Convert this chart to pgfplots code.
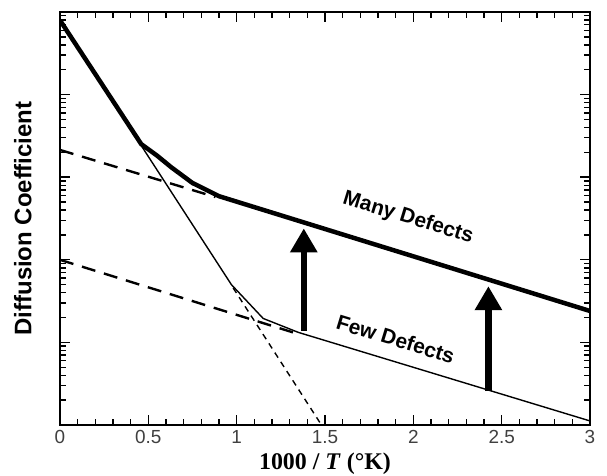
\documentclass[border=0pt]{standalone}
\usepackage{fontspec}
\setmainfont{Liberation Sans}
\newfontfamily\serifbf{Liberation Serif}
\usepackage{pgfplots}
\pgfplotsset{compat=1.18}
\usetikzlibrary{arrows.meta}

\begin{document}
\begin{tikzpicture}
\begin{axis}[
  width=530bp, height=413bp, scale only axis,
  xmin=0, xmax=3, ymin=1, ymax=1e5,
  ymode=log,
  xtick={0,0.5,...,3},
  minor x tick num=4,
  ytick={1,10,100,1000,10000,100000},
  yticklabels={},
  tick align=inside,
  major tick length=10bp, minor tick length=6bp,
  every tick/.style={black, line width=1.4bp},
  axis line style={line width=2.6bp},
  /pgf/number format/assume math mode=true,
  xticklabel style={font=\fontsize{19}{21}\selectfont, text=black!75, yshift=-2bp},
  xlabel={\serifbf\bfseries 1000 / \textit{T} (\textdegree K)},
  xlabel style={font=\fontsize{24}{26}\selectfont, at={(axis description cs:0.5,-0.095)}, anchor=center},
  ylabel={\bfseries Diffusion Coefficient},
  ylabel style={font=\fontsize{24}{26}\selectfont, at={(axis description cs:-0.07,0.5)}, anchor=center},
]
% many defects (sum)
\addplot[black, line width=4.5bp, line join=round] coordinates {
  (0,7.94e4) (0.46,2512) (0.55,1820) (0.63,1318) (0.75,851) (0.9,589) (3,24.0)
};
% few defects (sum)
\addplot[black, line width=1.4bp] coordinates {
  (0,7.94e4) (0.97,50.1) (1.15,19.5) (1.35,13.2) (3,1.12)
};
% intrinsic extension
\addplot[black, line width=1.4bp, dash pattern=on 6bp off 5bp] coordinates {
  (0.98,45.7) (1.48,1.0)
};
% extrinsic, many defects
\addplot[black, line width=2.4bp, dash pattern=on 14bp off 9bp] coordinates {
  (0,2138) (0.88,575)
};
% extrinsic, few defects
\addplot[black, line width=2.4bp, dash pattern=on 14bp off 9bp] coordinates {
  (0,100) (1.35,12.6)
};
% arrows
\addplot[black, line width=6.5bp, -{Triangle[width=26bp,length=24bp]}] coordinates {
  (1.38,13.8) (1.38,240)
};
\addplot[black, line width=6.5bp, -{Triangle[width=26bp,length=24bp]}] coordinates {
  (2.425,2.57) (2.425,47.9)
};
\node[font=\fontsize{21}{23}\selectfont\bfseries, rotate=-17] at (axis cs:1.97,320) {Many Defects};
\node[font=\fontsize{21}{23}\selectfont\bfseries, rotate=-17] at (axis cs:1.90,11.0) {Few Defects};
\coordinate (bl) at (rel axis cs:0,0);
\coordinate (tr) at (rel axis cs:1,1);
\end{axis}
\pgfresetboundingbox
\path[use as bounding box] ([shift={(-60bp,-51bp)}]bl) rectangle ([shift={(17bp,12bp)}]tr);
\end{tikzpicture}
\end{document}
